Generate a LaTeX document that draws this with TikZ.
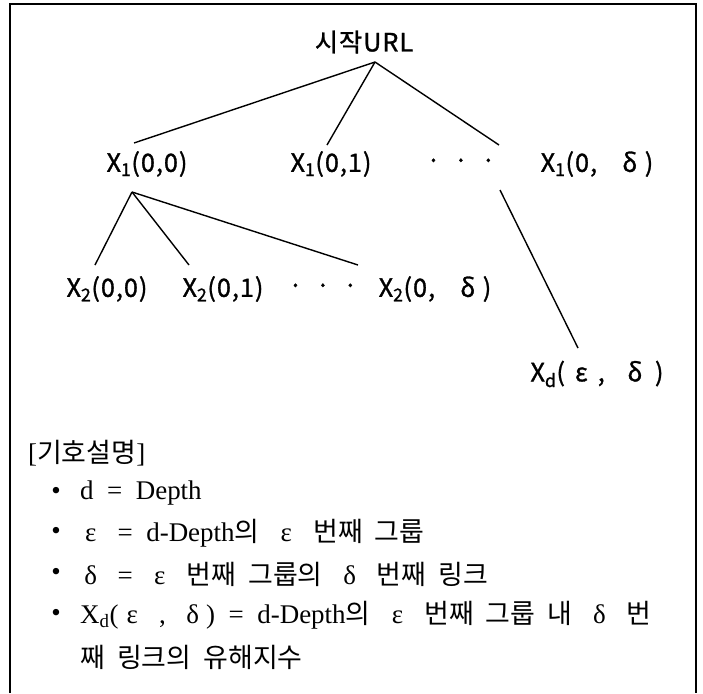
\documentclass[tikz,border=0pt]{standalone}
\usepackage{fontspec}
\setmainfont[WordSpace=2]{Liberation Serif}
\newfontfamily\krfont[FakeBold=1.2, LetterSpace=4]{Noto Sans CJK KR}
\newfontfamily\krnote[WordSpace=2]{Noto Sans CJK KR}
\usetikzlibrary{calc}

\newcommand{\kr}[1]{{\krnote #1}}
\newcommand{\gk}[1]{\makebox[1em]{#1}}

\tikzset{
  lbl/.style={inner sep=0pt, font=\krfont\fontsize{21.5pt}{25pt}\selectfont},
  note/.style={inner sep=0pt, anchor=west, font=\fontsize{23pt}{27pt}\selectfont},
  edge/.style={line width=1.2pt},
}

\begin{document}
\begin{tikzpicture}[x=0.03cm, y=-0.03cm]
\useasboundingbox (0,0) rectangle (703,693);

% frame (open at the bottom)
\draw[line width=1.8pt] (10,693) -- (10,4) -- (696,4) -- (696,693);

% tree
\node[lbl] (root) at (364,42) {시작URL};

\node[lbl] (x1a)   at (147,164) {X\textsubscript{1}(0,0)};
\node[lbl] (x1b)   at (331,164) {X\textsubscript{1}(0,1)};
\node[lbl] (dots1) at (461,164) {·\ \ ·\ \ ·};
\node[lbl] (x1d)   at (597,164) {X\textsubscript{1}(0,\hspace{1em}δ\hspace{0.3em})};

\node[lbl] (x2a)   at (107,289) {X\textsubscript{2}(0,0)};
\node[lbl] (x2b)   at (223,289) {X\textsubscript{2}(0,1)};
\node[lbl] (dots2) at (323,289) {·\ \ ·\ \ ·};
\node[lbl] (x2d)   at (435,289) {X\textsubscript{2}(0,\hspace{1em}δ\hspace{0.3em})};

\node[lbl] (xd)    at (597,374) {X\textsubscript{d}(\hspace{0.4em}ε\hspace{0.4em},\hspace{0.9em}δ\hspace{0.5em})};

% root -> level 1
\draw[edge] ($(root)+(11,20)$) -- ($(x1a)+(-13,-21)$);
\draw[edge] ($(root)+(11,20)$) -- ($(x1b)+(-4,-19)$);
\draw[edge] ($(root)+(11,20)$) -- ($(x1d)+(-98,-19)$);

% X1(0,0) -> level 2
\draw[edge] ($(x1a)+(-15,28)$) -- ($(x2a)+(-12,-24)$);
\draw[edge] ($(x1a)+(-15,28)$) -- ($(x2b)+(-34,-24)$);
\draw[edge] ($(x1a)+(-15,28)$) -- ($(x2d)+(-77,-24)$);

% X1(0,d) -> Xd
\draw[edge] ($(x1d)+(-97,26)$) -- ($(xd)+(-19,-26)$);

% legend
\node[note] (head) at (28,453) {[\kr{기호설명}]};

\node[note, anchor=center] (b1) at (56,493) {•};
\node[note, anchor=center] (b2) at (56,533) {•};
\node[note, anchor=center] (b3) at (56,574) {•};
\node[note, anchor=center] (b4) at (56,615) {•};

\node[note] (t1) at (80,493) {d = Depth};
\node[note] (t2) at (77,533) {\gk{ε} = d-Depth\kr{의} \gk{ε} \kr{번째 그룹}};
\node[note] (t3) at (77,574) {\gk{δ} = \gk{ε} \kr{번째 그룹의} \gk{δ} \kr{번째 링크}};
\node[note] (t4) at (80,615) {X\textsubscript{d}(\gk{ε} , \gk{δ}) = d-Depth\kr{의} \gk{ε} \kr{번째 그룹 내} \gk{δ} \kr{번}};
\node[note] (t5) at (80,657) {\kr{째 링크의 유해지수}};

\end{tikzpicture}
\end{document}
